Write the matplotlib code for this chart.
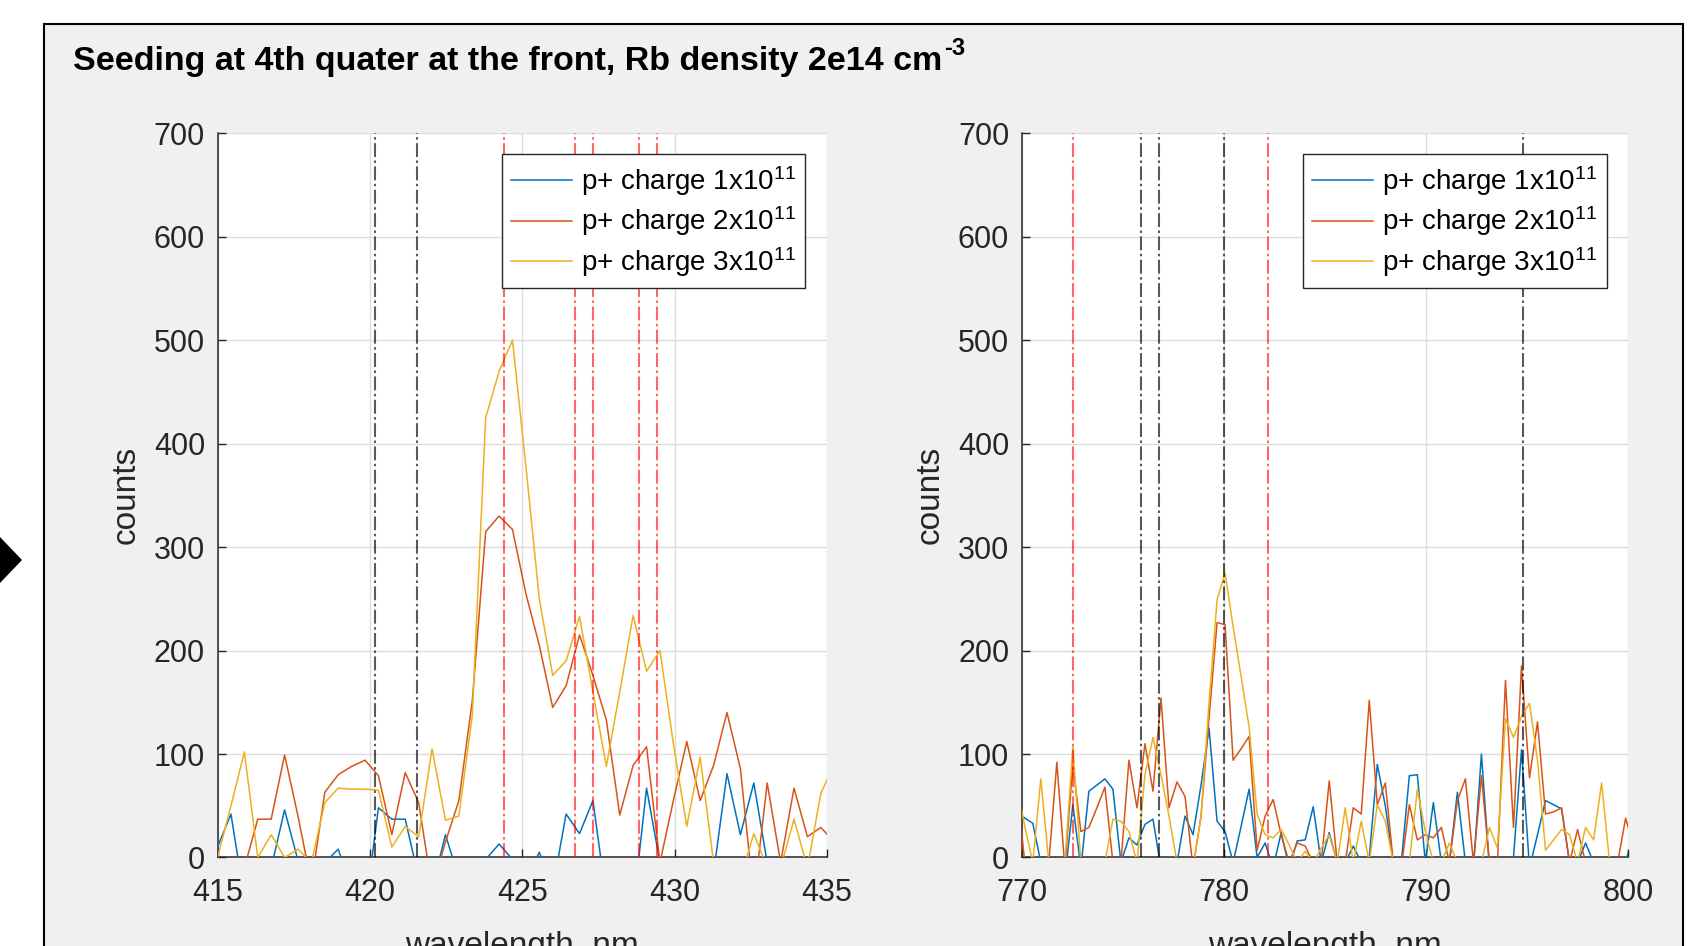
import numpy as np
import matplotlib
matplotlib.use('Agg')
import matplotlib.pyplot as plt
from matplotlib.patches import Rectangle, Polygon

plt.rcParams['font.family'] = ['Liberation Sans', 'DejaVu Sans']
plt.rcParams['mathtext.default'] = 'regular'
plt.rcParams['lines.scale_dashes'] = False

# left spectrum, 0.44 nm sampling starting at 415 nm
left_start, left_step = 415.0, 0.44
blue_L = [10, 42, -40, -30, -10, 46, -3, -20, -5, 8,
          -30, -53, 48, 37, 37, -20, -30, 22, -20, -30,
          -2, 13, -2, -20, 5, -30, 42, 23, 55, -40,
          -40, -50, 67, -5, -30, -30, -30, -15, 81, 22,
          72, -5, -30, -30, -30, -30, -30]
orange_L = [-20, -20, -10, 37, 37, 99, 40, -25, 63, 80,
            88, 94, 79, 22, 82, 53, -30, 15, 55, 151,
            315, 330, 317, 255, 205, 145, 166, 215, 176, 133,
            41, 89, 107, -5, 55, 112, 55, 89, 140, 86,
            -40, 72, -5, 67, 20, 29, 15]
yellow_L = [0, 50, 102, 0, 22, 0, 8, -5, 53, 67,
            66, 66, 65, 10, 30, 20, 105, 36, 40, 137,
            425, 470, 500, 378, 250, 176, 190, 233, 160, 88,
            160, 234, 180, 200, 110, 30, 97, -5, -20, -20,
            23, -10, -10, 37, -10, 62, 90]

# right spectrum, 0.3964 nm sampling
right_start, right_step = 769.76, 0.3964
blue_R = [45, 38, 33, -5, -30, -30, -20, 51, -10, 64,
          70, 76, 66, -5, 19, 12, 32, 37, -10, -20,
          -5, 40, 22, 70, 125, 35, 25, -5, 30, 66,
          0, 14, -10, 24, -10, 16, 17, 49, -5, 24,
          -5, -5, 11, -5, 0, 90, 50, -5, -5, 79,
          80, -5, 53, -5, -5, 63, -5, -10, 100, -10,
          -10, -5, 0, 104, -10, 22, 55, 51, 47, -5,
          -5, 14, -5, -5, -5, -5, -5, 25]
orange_R = [70, -5, -10, -10, -5, 92, -10, 90, 25, 29,
            48, 68, -5, -5, 94, 48, 110, 64, 154, 48,
            73, 59, -10, 40, 135, 227, 225, 94, 105, 117,
            7, 40, 56, 22, -5, 14, 11, -5, -5, 74,
            -5, -5, 48, 42, 152, 51, 72, -5, -10, 51,
            17, 22, 19, 29, -5, 55, 76, -5, 79, -5,
            -5, 171, 29, 185, 77, 131, 42, 44, 48, -5,
            27, -5, -5, -5, -5, -5, 38, 10]
yellow_R = [70, 30, -5, 76, -5, -5, -5, 107, -5, -5,
            -5, -5, 37, 35, 25, -5, 80, 116, 80, 40,
            -5, -5, -10, 40, 150, 249, 275, 223, 175, 126,
            42, 22, 19, 27, 12, -5, 6, -5, 9, 22,
            -5, 48, -5, 35, -5, 51, 35, -5, -5, -5,
            66, 25, -5, -5, 14, -5, -5, -5, -5, 29,
            9, 134, 116, 136, 149, 94, 7, 17, 27, 22,
            -5, 29, 17, 72, -5, -5, -5, -5]

# marked lines (nm)
left_black = [420.18, 421.56]
left_red = [424.41, 426.72, 427.32, 428.84, 429.43]
right_black = [775.9, 776.82, 780.0, 794.8]
right_red = [772.55, 782.2]

labels = ['p+ charge 1x10$^{11}$', 'p+ charge 2x10$^{11}$', 'p+ charge 3x10$^{11}$']
colors = ['#0072BD', '#D95319', '#EDB120']
title = 'Seeding at 4th quater at the front, Rb density 2e14 cm'
title_sup = '-3'

fig = plt.figure(figsize=(17.05, 9.46), dpi=100)
fig.patch.set_facecolor('white')

# grey window panel and the little marker on the left edge
fig.patches.append(Rectangle((43.5 / 1705, -0.02), (1683 - 43.5) / 1705, 1 - 24 / 946 + 0.02,
                             transform=fig.transFigure, facecolor='#f0f0f0',
                             edgecolor='black', linewidth=1.5, zorder=-5))
fig.patches.append(Polygon([(0, 1 - 537 / 946), (22 / 1705, 1 - 560 / 946), (0, 1 - 583 / 946)],
                           closed=True, transform=fig.transFigure, facecolor='black',
                           edgecolor='none', zorder=-4))

# title with a hyphen superscript placed right after it
t = fig.text(73 / 1705, 1 - 70 / 946, title, fontsize=24.5, fontweight='bold', va='baseline')
fig.canvas.draw()
bb = t.get_window_extent()
fig.text(bb.x1 / fig.bbox.width + 2 / 1705, 1 - 55 / 946, title_sup, fontsize=17,
         fontweight='bold', va='baseline', ha='left')

ax_l = fig.add_axes([0.1276, 0.0936, 0.3574, 0.7655])
ax_r = fig.add_axes([0.5992, 0.0936, 0.3556, 0.7655])

panels = [
    (ax_l, left_start, left_step, [blue_L, orange_L, yellow_L], left_black, left_red, (415, 435), np.arange(415, 436, 5)),
    (ax_r, right_start, right_step, [blue_R, orange_R, yellow_R], right_black, right_red, (770, 800), np.arange(770, 801, 10)),
]

for ax, start, step, series, blacks, reds, xlim, xticks in panels:
    ax.set_facecolor('white')
    handles = []
    for vals, c, lab in zip(series, colors, labels):
        wl = start + step * np.arange(len(vals))
        h, = ax.plot(wl, vals, color=c, lw=1.1, label=lab, zorder=3)
        handles.append(h)
    for w in blacks:
        ax.axvline(w, color='black', alpha=0.65, lw=1.5, ls=(0, (10, 2.5, 1.8, 2.5)), zorder=4)
    for w in reds:
        ax.axvline(w, color='red', alpha=0.6, lw=1.5, ls=(0, (10, 2.5, 1.8, 2.5)), zorder=4)

    ax.set_xlim(*xlim)
    ax.set_ylim(0, 700)
    ax.set_xticks(xticks)
    ax.set_yticks(np.arange(0, 701, 100))
    ax.grid(True, color='#dcdcdc', lw=1.0)
    ax.set_axisbelow(True)
    for s in ['top', 'right']:
        ax.spines[s].set_visible(False)
    for s in ['left', 'bottom']:
        ax.spines[s].set_color('#262626')
        ax.spines[s].set_linewidth(1.1)
    ax.tick_params(axis='both', direction='in', length=6, width=1, colors='#262626', labelsize=22)
    ax.tick_params(axis='x', pad=15)
    ax.tick_params(axis='y', pad=9)
    ax.set_xlabel('wavelength, nm', fontsize=24, color='#262626', labelpad=16)
    ax.set_ylabel('counts', fontsize=24, color='#262626', labelpad=9)

    leg = ax.legend(handles=handles, loc='upper right', bbox_to_anchor=(0.9647, 0.971),
                    borderaxespad=0, fontsize=20, fancybox=False, framealpha=1,
                    edgecolor='#262626', handlelength=2.2, handletextpad=0.3,
                    borderpad=0.35, labelspacing=0.24)
    leg.get_frame().set_linewidth(1.0)
    leg.set_zorder(10)

fig.savefig('out.png', dpi=100)
